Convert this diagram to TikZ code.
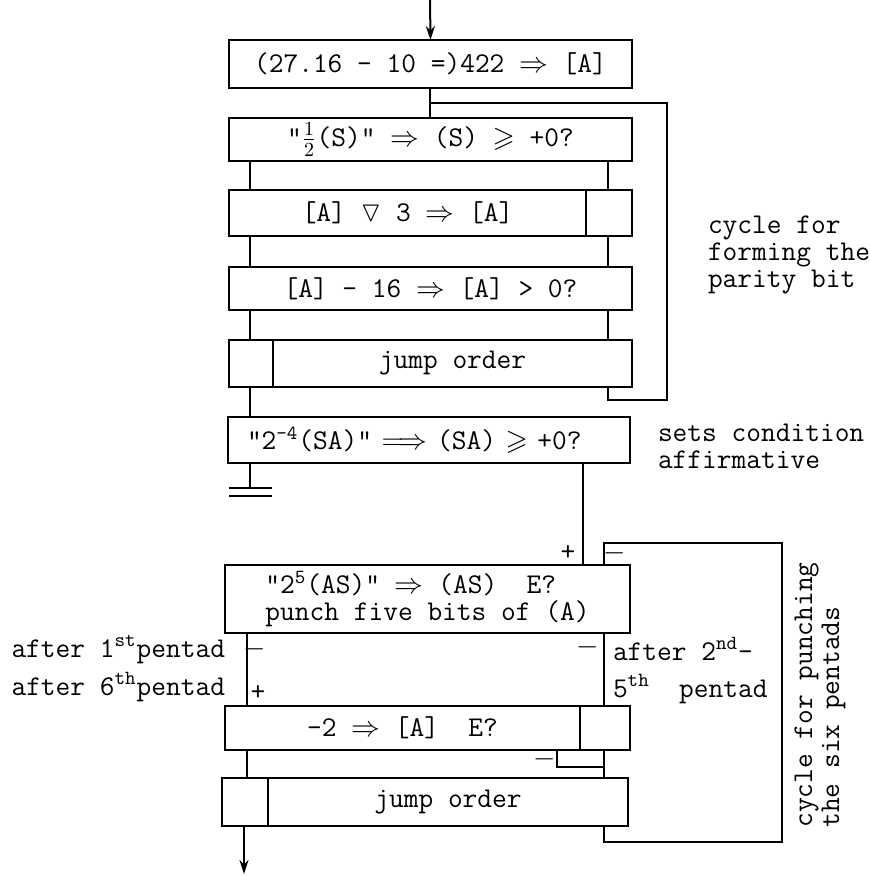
\documentclass[tikz,border=0pt]{standalone}
\usepackage{amsmath,amssymb}
\usetikzlibrary{arrows.meta}
\newcommand\typew{\ttfamily\fontsize{14.3}{13.5}\selectfont}

\begin{document}
\begin{tikzpicture}[x=0.5pt,y=-0.5pt,>={Stealth[length=7pt,width=4.5pt]},line width=1pt,
    opbox/.style 2 args={draw,inner sep=0pt,outer sep=0pt,anchor=north west,
      minimum width=#1*0.5pt,minimum height=#2*0.5pt,font=\typew},
    note/.style={inner sep=0pt,align=left,font=\typew},
    sign/.style={inner sep=0pt,font=\typew}]
  \useasboundingbox (0,0) rectangle (870,876);
  % columns of the flow lines
  \coordinate (top) at (430,0);
  \coordinate (lc) at (250,0);
  \coordinate (rc) at (608,0);
  \coordinate (lc2) at (247,0);
  \coordinate (rc2) at (604,0);
  \coordinate (pc) at (583,0);
  \coordinate (sk) at (557,0);
  \coordinate (lp) at (667,103);
  \coordinate (cyc) at (782,543);
  \coordinate (bot) at (244,874);

  % the orders
  \node[opbox={403}{48}] (b1) at (229,40) {(27.16 - 10 =)422 $\Rightarrow$ [A]};
  \node[opbox={403}{43}] (b2) at (229,118) {"$\frac12$(S)" $\Rightarrow$ (S) $\geqslant$ +0?};
  \node[opbox={357}{46}] (b3) at (229,190) {[A] $\triangledown$ 3 $\Rightarrow$ [A]};
  \node[opbox={46}{46}] (b3c) at (586,190) {};
  \node[opbox={403}{43}] (b4) at (229,267) {[A] - 16 $\Rightarrow$ [A] > 0?};
  \node[opbox={44}{47}] (b5c) at (229,340) {};
  \node[opbox={359}{47}] (b5) at (273,340) {jump order};
  \node[opbox={402}{46},text width=182pt,align=left] (b6) at (228,417)
    {"2\textsuperscript{-4}(SA)" $\Longrightarrow$ (SA) $\geqslant$ +0?};
  \node[opbox={405}{68},align=left] (b7) at (225,565)
    {"2\textsuperscript{5}(AS)" $\Rightarrow$ (AS)~~E?\\punch five bits of (A)};
  \node[opbox={355}{44}] (b8) at (225,706) {-2 $\Rightarrow$ [A]~~E?};
  \node[opbox={50}{44}] (b8c) at (580,706) {};
  \node[opbox={46}{48}] (b9c) at (222,778) {};
  \node[opbox={360}{48}] (b9) at (268,778) {jump order};

  % flow lines
  \draw[->] (top) -- (b1.north);
  \draw (b1.south -| top) -- (b2.north -| top);
  \draw (b2.south -| lc) -- (b3.north -| lc);
  \draw (b2.south -| rc) -- (b3.north -| rc);
  \draw (b3.south -| lc) -- (b4.north -| lc);
  \draw (b3.south -| rc) -- (b4.north -| rc);
  \draw (b4.south -| lc) -- (b5c.north -| lc);
  \draw (b4.south -| rc) -- (b5.north -| rc);
  \draw (b5c.south -| lc) -- (b6.north -| lc);
  \draw (b5.south -| rc) -- ++(0,13) -| (lp) -- (lp -| top);
  \draw (b6.south -| lc) -- ++(0,25) coordinate (gnd);
  \draw (gnd) ++(-21,0) -- ++(43,0);
  \draw (gnd) ++(-21,8) -- ++(43,0);
  \draw (b6.south -| pc) -- (b7.north -| pc);
  \draw (b9.south -| rc2) -- ++(0,16) -| (cyc) -| (b7.north -| rc2);
  \draw (b7.south -| lc2) -- (b8.north -| lc2);
  \draw (b7.south -| rc2) -- (b8c.north -| rc2);
  \draw (b8.south -| lc2) -- (b9c.north -| lc2);
  \draw (b8c.south -| rc2) -- (b9.north -| rc2);
  \draw (b8.south -| sk) -- ++(0,17) coordinate (skb) -- (skb -| rc2);
  \draw[->] (b9c.south -| bot) -- (bot);

  % signs at the branches
  \node[sign] (p1) at (568,553) {+};
  \node[sign] (m1) at (615,553) {$-$};
  \node[sign] (m2) at (255,649) {$-$};
  \node[sign] (p2) at (258,693) {+};
  \node[sign] (m3) at (588,647) {$-$};
  \node[sign] (m4) at (545,759) {$-$};

  % remarks
  \node[note,anchor=north west] (cyc1) at (707,215) {cycle for\\forming the\\parity bit};
  \node[note,anchor=north west] (sets) at (657,423) {sets condition\\affirmative};
  \node[note,anchor=base east] (aft1) at (226,657) {after 1\textsuperscript{st}pentad};
  \node[note,anchor=base east] (aft6) at (226,695) {after 6\textsuperscript{th}pentad};
  \node[note,anchor=base west] (aft2) at (612,660) {after 2\textsuperscript{nd}-};
  \node[note,anchor=base west] (aft5) at (612,697) {5\textsuperscript{th}~~pentad};
  \node[note,rotate=90] (cyc2) at (820,695) {cycle for punching\\the six pentads};
\end{tikzpicture}
\end{document}
